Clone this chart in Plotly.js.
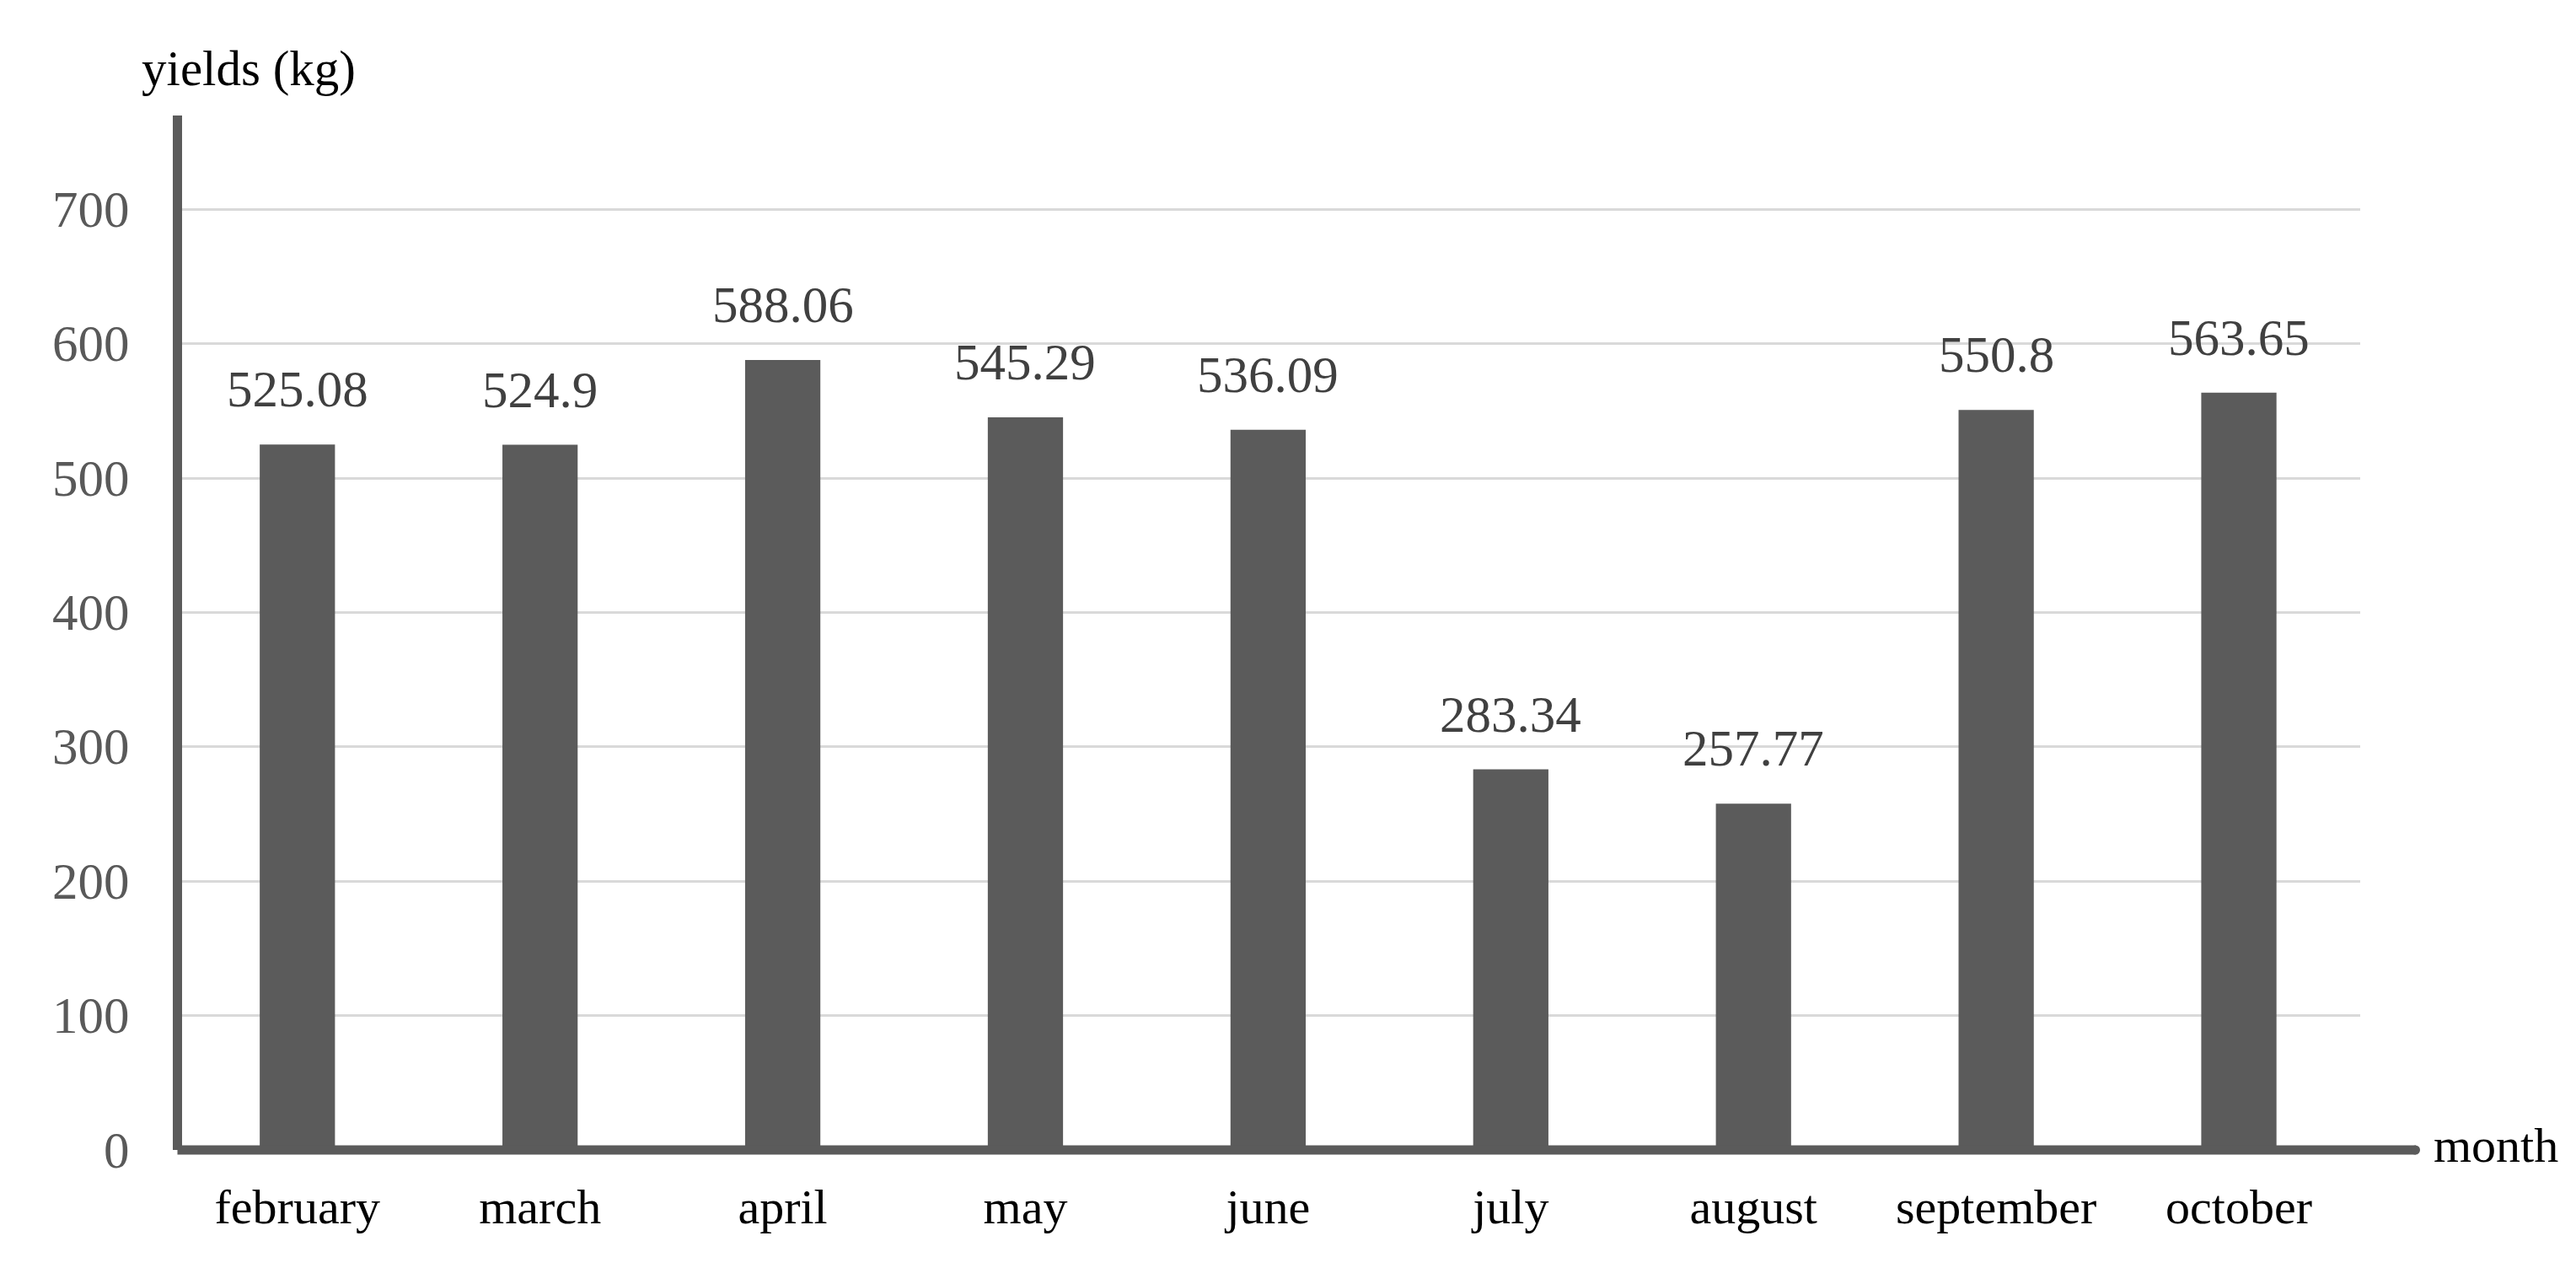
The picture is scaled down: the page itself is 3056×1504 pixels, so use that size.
<!DOCTYPE html>
<html>
<head>
<meta charset="utf-8">
<script src="https://cdn.plot.ly/plotly-3.0.1.min.js"></script>
<style>html,body{margin:0;padding:0;background:#fff;}#chart{width:3056px;height:1504px;}</style>
</head>
<body>
<div id="chart"></div>
<script>
const months = ["february","march","april","may","june","july","august","september","october"];
const yields = [525.08, 524.9, 588.06, 545.29, 536.09, 283.34, 257.77, 550.8, 563.65];
const yTicks = [0, 100, 200, 300, 400, 500, 600, 700];
const yLabel = "yields (kg)";
const xLabel = "month";

const W = 3056, H = 1504;
const L = 216, R = 2800, T = 137, B = 1364;
const pw = R - L, ph = B - T;
const serif = "Liberation Serif, Times New Roman, serif";
const px = v => (v - L) / pw;
const py = v => (B - v) / ph;

const annotations = months.map((m, i) => ({
  x: m, y: yields[i], xref: 'x', yref: 'y',
  text: String(yields[i]), showarrow: false,
  yanchor: 'bottom', xanchor: 'center', yshift: 30,
  font: {family: serif, size: 61, color: '#404040'}
}));
yTicks.forEach(t => annotations.push({
  xref: 'paper', yref: 'y', x: px(156), y: t,
  xanchor: 'right', yanchor: 'middle', text: String(t), showarrow: false,
  font: {family: serif, size: 61, color: '#595959'}
}));
annotations.push({
  xref: 'paper', yref: 'paper', x: px(166), y: py(116),
  xanchor: 'left', yanchor: 'bottom', text: yLabel, showarrow: false,
  font: {family: serif, size: 59, color: '#000'}
});
annotations.push({
  xref: 'paper', yref: 'paper', x: px(2885), y: 0,
  xanchor: 'left', yanchor: 'middle', yshift: 6, text: xLabel, showarrow: false,
  font: {family: serif, size: 58, color: '#000'}
});

const data = [{
  type: 'bar', x: months, y: yields,
  marker: {color: '#5b5b5b'},
  hoverinfo: 'none'
}];

const layout = {
  width: W, height: H,
  margin: {l: L, r: W - R, t: T, b: H - B, pad: 0},
  paper_bgcolor: '#fff', plot_bgcolor: '#fff',
  bargap: 0.69,
  showlegend: false,
  xaxis: {
    type: 'category', categoryarray: months, range: [-0.475, 8.5],
    showline: false, showgrid: false, zeroline: false, ticks: '',
    ticklabelstandoff: 28,
    tickfont: {family: serif, size: 58, color: '#000'}
  },
  yaxis: {
    range: [0, 770], tickvals: yTicks, showticklabels: false,
    showgrid: true, gridcolor: '#d9d9d9', gridwidth: 3,
    zeroline: false, showline: true, linecolor: '#5b5b5b', linewidth: 11,
    ticks: ''
  },
  shapes: [{
    type: 'line', xref: 'paper', yref: 'paper',
    x0: -5.5 / pw, x1: px(2866), y0: 0, y1: 0,
    line: {color: '#5b5b5b', width: 11}, layer: 'above'
  }, {
    type: 'circle', xref: 'paper', yref: 'paper',
    x0: px(2860), x1: px(2871), y0: -5.5 / ph, y1: 5.5 / ph,
    fillcolor: '#5b5b5b', line: {width: 0}, layer: 'above'
  }],
  annotations: annotations
};

Plotly.newPlot('chart', data, layout, {displayModeBar: false, staticPlot: true});
</script>
</body>
</html>
